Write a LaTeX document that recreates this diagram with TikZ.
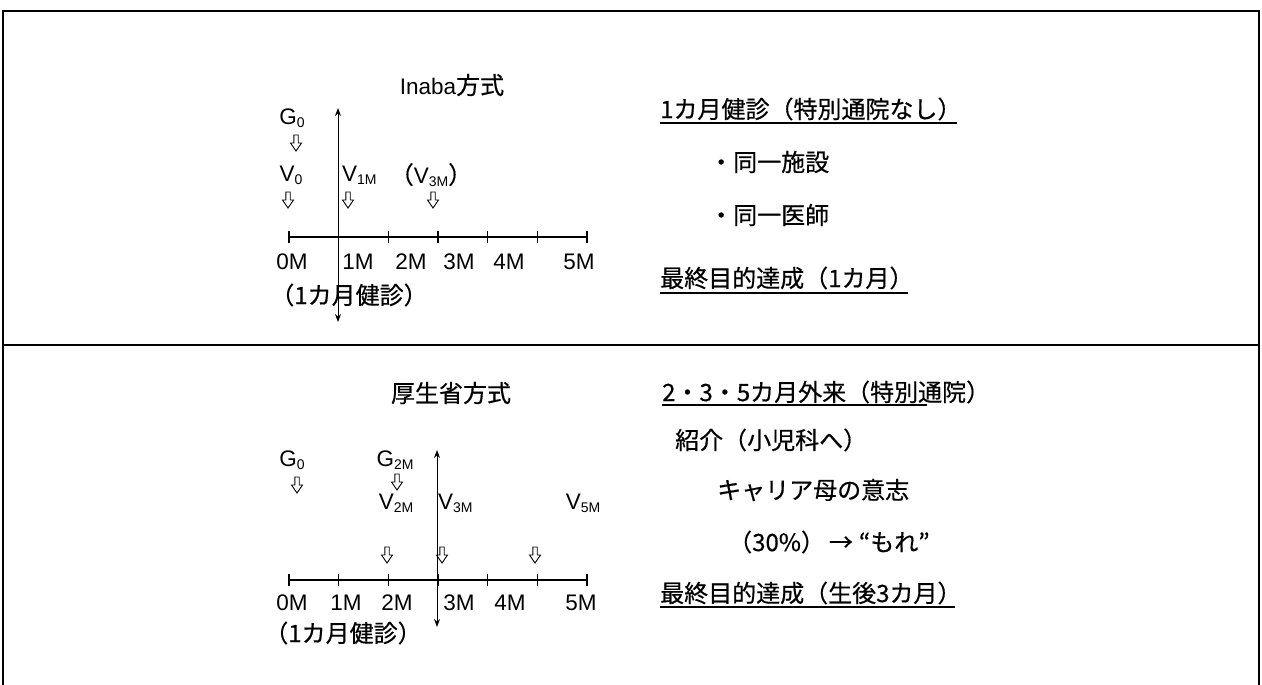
\documentclass[tikz,border=0pt]{standalone}
\usepackage{fontspec}
\setmainfont{Liberation Sans}
\newfontfamily\jpf[FakeBold=0.5]{Noto Sans CJK JP}
\newcommand\jp{\jpf\fontsize{24}{28}\selectfont}
\usetikzlibrary{arrows.meta}
\newcommand\lsub[1]{\raisebox{-0.25ex}{\fontsize{14}{14}\selectfont #1}}
\tikzset{
  txt/.style={inner sep=0pt, font=\fontsize{22.5}{26}\selectfont},
  downarr/.pic={\draw[line width=0.9pt, line join=miter] (-2.2,-8) -- (-2.2,0) -- (-5.5,0) -- (0,8) -- (5.5,0) -- (2.2,0) -- (2.2,-8) -- cycle;},
  axisline/.style={line width=1.6pt},
  tickmark/.style={line width=1.6pt},
  vaxis/.style={line width=1pt, {Stealth[length=8pt,width=6pt]}-{Stealth[length=8pt,width=6pt]}},
  frameline/.style={line width=1.1pt},
  uline/.style={line width=1.1pt}
}
\begin{document}
\begin{tikzpicture}[x=1pt,y=-1pt]
\useasboundingbox (0,0) rectangle (1262,685);
% frame
\coordinate (fbl) at (3,685); \coordinate (ftl) at (3,11);
\coordinate (ftr) at (1259,11); \coordinate (fbr) at (1259,685);
\coordinate (dl) at (3,345); \coordinate (dr) at (1259,345);
\draw[frameline] (fbl) -- (ftl) -- (ftr) -- (fbr);
\draw[frameline] (dl) -- (dr);

% ===== top section =====
\node[txt] (tA) at (452,85) {Inaba{\jp 方式}};
\node[txt] (gA) at (292,118) {G\lsub{0}};
\pic at (296,143) {downarr};
\node[txt] (v0A) at (291,175) {V\lsub{0}};
\pic at (288,200) {downarr};
\node[txt, anchor=west] (v1A) at (342,175) {V\lsub{1M}};
\pic at (348,200) {downarr};
\node[txt] (v3A) at (431,175) {{\jp （}V\lsub{3M}{\jp ）}};
\pic at (433,200) {downarr};
\foreach \i in {0,...,6} {\coordinate (axA\i) at ({289+49.67*\i},237);}
\draw[axisline] (axA0) -- (axA6);
\foreach \i in {0,...,6} {\draw[tickmark] ([yshift=-6pt]axA\i) -- ([yshift=6pt]axA\i);}
\coordinate (vAt) at (338,108); \coordinate (vAb) at (338,322);
\draw[vaxis] (vAt) -- (vAb);
\node[txt] (lA0) at (292,262) {0M};
\node[txt] (lA1) at (358,262) {1M};
\node[txt] (lA2) at (411,262) {2M};
\node[txt] (lA3) at (459,262) {3M};
\node[txt] (lA4) at (509,262) {4M};
\node[txt] (lA5) at (579,262) {5M};
\node[txt] (kA) at (349,295) {\jp （1カ月健診）};

\node[txt, anchor=west] (rA1) at (660,109) {\jp 1カ月健診（特別通院なし）};
\coordinate (uA1a) at (660,123); \coordinate (uA1b) at (957,123);
\draw[uline] (uA1a) -- (uA1b);
\node[txt, anchor=west] (rA2) at (709,162) {\jp ・同一施設};
\node[txt, anchor=west] (rA3) at (709,215) {\jp ・同一医師};
\node[txt, anchor=west] (rA4) at (660,278) {\jp 最終目的達成（1カ月）};
\coordinate (uA4a) at (660,293); \coordinate (uA4b) at (908,293);
\draw[uline] (uA4a) -- (uA4b);

% ===== bottom section =====
\node[txt] (tB) at (451,393) {\jp 厚生省方式};
\node[txt] (gB) at (292,460) {G\lsub{0}};
\pic at (297,485) {downarr};
\node[txt] (g2B) at (395,460) {G\lsub{2M}};
\pic at (397,482) {downarr};
\node[txt] (v2B) at (396,503) {V\lsub{2M}};
\node[txt, anchor=west] (v3B) at (438,503) {V\lsub{3M}};
\node[txt] (v5B) at (583,503) {V\lsub{5M}};
\pic at (387,555) {downarr};
\pic at (442,555) {downarr};
\pic at (535,555) {downarr};
\foreach \i in {0,...,6} {\coordinate (axB\i) at ({289+49.67*\i},580);}
\draw[axisline] (axB0) -- (axB6);
\foreach \i in {0,...,6} {\draw[tickmark] ([yshift=-6pt]axB\i) -- ([yshift=6pt]axB\i);}
\coordinate (vBt) at (437,450); \coordinate (vBb) at (437,627);
\draw[vaxis] (vBt) -- (vBb);
\node[txt] (lB0) at (292,603) {0M};
\node[txt] (lB1) at (346,603) {1M};
\node[txt] (lB2) at (397,603) {2M};
\node[txt] (lB3) at (459,603) {3M};
\node[txt] (lB4) at (510,603) {4M};
\node[txt] (lB5) at (581,603) {5M};
\node[txt] (kB) at (343,633) {\jp （1カ月健診）};

\node[txt, anchor=west] (rB1) at (662,392) {\jp 2・3・5カ月外来（特別通院）};
\coordinate (uB1a) at (662,405); \coordinate (uB1b) at (927,405);
\draw[uline] (uB1a) -- (uB1b);
\node[txt, anchor=west] (rB2) at (675,440) {\jp 紹介（小児科へ）};
\node[txt, anchor=west] (rB3) at (717,490) {\jp キャリア母の意志};
\node[txt, anchor=west] (rB4) at (728,542) {\jp （30\%）\hspace{4pt}→\hspace{6pt}“もれ”};
\node[txt, anchor=west] (rB5) at (660,593) {\jp 最終目的達成（生後3カ月）};
\coordinate (uB5a) at (660,607); \coordinate (uB5b) at (955,607);
\draw[uline] (uB5a) -- (uB5b);
\end{tikzpicture}
\end{document}
